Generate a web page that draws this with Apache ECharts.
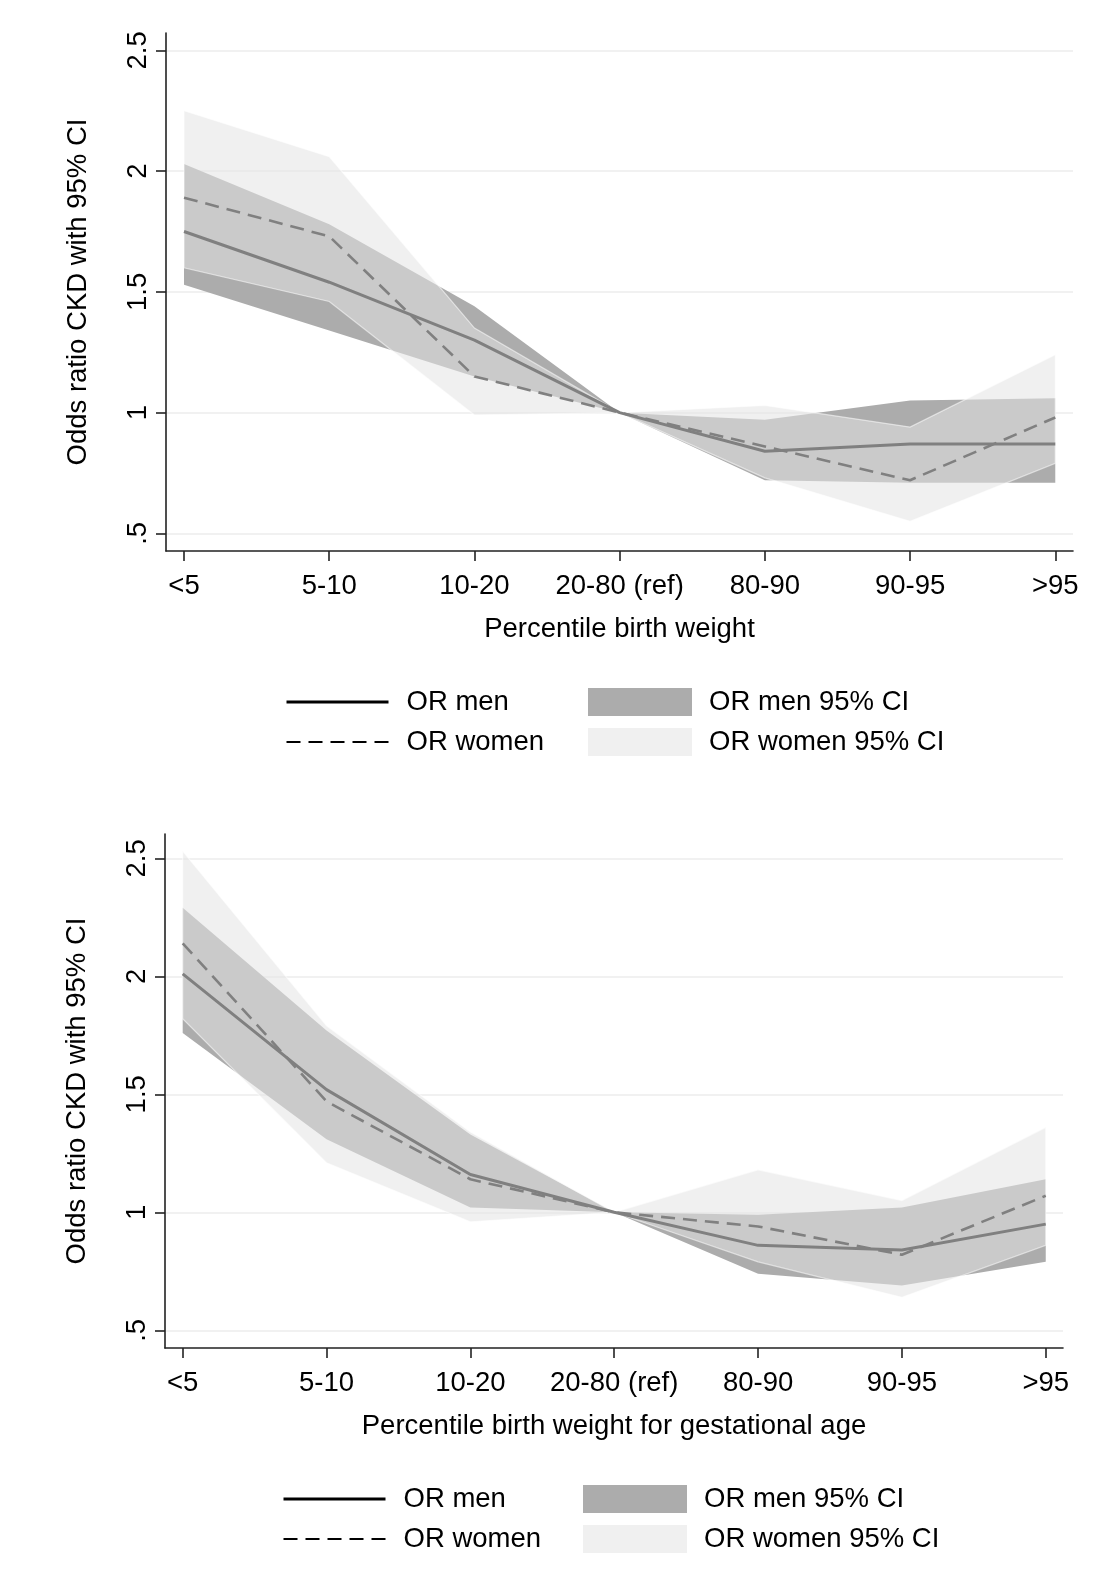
<!DOCTYPE html>
<html>
<head>
<meta charset="utf-8">
<title>Odds ratio CKD by percentile birth weight</title>
<script src="https://cdn.jsdelivr.net/npm/echarts@6/dist/echarts.min.js"></script>
<style>
  html, body { margin: 0; padding: 0; background: #fff; }
  #main { width: 1101px; height: 1596px; }
</style>
</head>
<body>
<div id="main"></div>
<script>
// categories and ticks
const categories = ['<5', '5-10', '10-20', '20-80 (ref)', '80-90', '90-95', '>95'];
const yTicks = [0.5, 1, 1.5, 2, 2.5];

// top panel: percentile birth weight
const menOR1   = [1.75, 1.54, 1.30, 1, 0.84, 0.87, 0.87];
const menLo1   = [1.53, 1.34, 1.15, 1, 0.72, 0.71, 0.71];
const menHi1   = [2.03, 1.78, 1.44, 1, 0.97, 1.05, 1.06];
const womenOR1 = [1.89, 1.73, 1.15, 1, 0.86, 0.72, 0.98];
const womenLo1 = [1.60, 1.46, 0.99, 1, 0.73, 0.55, 0.79];
const womenHi1 = [2.25, 2.06, 1.35, 1, 1.03, 0.94, 1.24];

// bottom panel: percentile birth weight for gestational age
const menOR2   = [2.01, 1.52, 1.16, 1, 0.86, 0.84, 0.95];
const menLo2   = [1.76, 1.31, 1.02, 1, 0.74, 0.69, 0.79];
const menHi2   = [2.29, 1.77, 1.33, 1, 0.99, 1.02, 1.14];
const womenOR2 = [2.14, 1.47, 1.14, 1, 0.94, 0.82, 1.07];
const womenLo2 = [1.82, 1.21, 0.96, 1, 0.79, 0.64, 0.86];
const womenHi2 = [2.53, 1.79, 1.34, 1, 1.18, 1.05, 1.36];

const FONT = '"Liberation Sans", Arial, sans-serif';
const FS = 27.5;
const MEN_FILL = '#acacac';
const WOMEN_FILL = 'rgb(227,227,227)';
const LINE_GRAY = '#808080';

const chart = echarts.init(document.getElementById('main'), null, {renderer: 'canvas'});

function xAxisFor(gridIndex, name, min, max) {
  return {
    type: 'value', gridIndex: gridIndex, min: min, max: max,
    name: name, nameLocation: 'middle', nameGap: 64,
    nameTextStyle: {fontFamily: FONT, fontSize: FS, color: '#000'},
    axisLine: {onZero: false, lineStyle: {color: '#222', width: 1.6}},
    axisTick: {customValues: categories.map((c, i) => i), length: 10, lineStyle: {color: '#222', width: 1.6}},
    axisLabel: {
      customValues: categories.map((c, i) => i), margin: 21,
      fontFamily: FONT, fontSize: FS, color: '#000',
      formatter: v => categories[Math.round(v)]
    },
    splitLine: {show: false}
  };
}

function yAxisFor(gridIndex, min, max) {
  return {
    type: 'value', gridIndex: gridIndex, min: min, max: max,
    name: 'Odds ratio CKD with 95% CI', nameLocation: 'middle', nameGap: 74, nameRotate: 90,
    nameTextStyle: {fontFamily: FONT, fontSize: FS, color: '#000'},
    axisLine: {show: true, onZero: false, lineStyle: {color: '#222', width: 1.6}},
    axisTick: {show: true, customValues: yTicks, length: 10, lineStyle: {color: '#222', width: 1.6}},
    axisLabel: {
      customValues: yTicks, rotate: 90, margin: 14,
      fontFamily: FONT, fontSize: FS, color: '#000',
      formatter: v => (v === 0.5 ? '.5' : String(v))
    },
    splitLine: {show: true, lineStyle: {color: '#ececec', width: 1.5}}
  };
}

function band(name, gridIndex, lo, hi, fill, opacity, stroke) {
  return {
    name: name, type: 'custom', xAxisIndex: gridIndex, yAxisIndex: gridIndex,
    itemStyle: {color: fill},
    data: lo.map((v, i) => [i, v, hi[i]]),
    renderItem: function (params, api) {
      if (params.dataIndex !== 0) return null;
      const upper = hi.map((v, i) => api.coord([i, v]));
      const lower = lo.map((v, i) => api.coord([i, v])).reverse();
      return {
        type: 'polygon',
        shape: {points: upper.concat(lower)},
        style: {fill: fill, opacity: opacity, stroke: stroke, lineWidth: stroke ? 1.2 : 0}
      };
    }
  };
}

function line(name, gridIndex, values, dashed) {
  return {
    name: name, type: 'line', xAxisIndex: gridIndex, yAxisIndex: gridIndex,
    data: values.map((v, i) => [i, v]),
    symbol: 'none', silent: true, z: 5,
    lineStyle: {color: LINE_GRAY, width: dashed ? 2.6 : 3, type: dashed ? [14, 8] : 'solid'},
    itemStyle: {color: LINE_GRAY}
  };
}

function legendsFor(lineLeft, rectLeft, top) {
  return [
    {
      orient: 'vertical', left: lineLeft, top: top, padding: 0,
      itemWidth: 102, itemHeight: 28, itemGap: 12, selectedMode: false,
      textStyle: {fontFamily: FONT, fontSize: FS, color: '#000', padding: [0, 0, 0, 13]},
      data: [
        {name: 'OR men', itemStyle: {opacity: 0}, lineStyle: {color: '#000', width: 3, type: 'solid'}},
        {name: 'OR women', itemStyle: {opacity: 0}, lineStyle: {color: '#000', width: 2, type: [14, 8]}}
      ]
    },
    {
      orient: 'vertical', left: rectLeft, top: top, padding: 0,
      itemWidth: 104, itemHeight: 28, itemGap: 12, selectedMode: false,
      textStyle: {fontFamily: FONT, fontSize: FS, color: '#000', padding: [0, 0, 0, 12]},
      data: [
        {name: 'OR men 95% CI', icon: 'rect', itemStyle: {color: MEN_FILL}},
        {name: 'OR women 95% CI', icon: 'rect', itemStyle: {color: '#f0f0f0'}}
      ]
    }
  ];
}

const option = {
  animation: false,
  backgroundColor: '#fff',
  grid: [
    {left: 166, top: 33, width: 907, height: 518},
    {left: 165, top: 834, width: 898, height: 514}
  ],
  xAxis: [
    xAxisFor(0, 'Percentile birth weight', -0.124, 6.122),
    xAxisFor(1, 'Percentile birth weight for gestational age', -0.123, 6.12)
  ],
  yAxis: [
    yAxisFor(0, 0.427, 2.572),
    yAxisFor(1, 0.425, 2.603)
  ],
  legend: legendsFor(285, 588, 688).concat(legendsFor(282, 583, 1485)),
  series: [
    band('OR men 95% CI', 0, menLo1, menHi1, MEN_FILL, 1, null),
    band('OR women 95% CI', 0, womenLo1, womenHi1, WOMEN_FILL, 0.55, '#ffffff'),
    line('OR men', 0, menOR1, false),
    line('OR women', 0, womenOR1, true),
    band('OR men 95% CI', 1, menLo2, menHi2, MEN_FILL, 1, null),
    band('OR women 95% CI', 1, womenLo2, womenHi2, WOMEN_FILL, 0.55, '#ffffff'),
    line('OR men', 1, menOR2, false),
    line('OR women', 1, womenOR2, true)
  ]
};

chart.setOption(option);
</script>
</body>
</html>
